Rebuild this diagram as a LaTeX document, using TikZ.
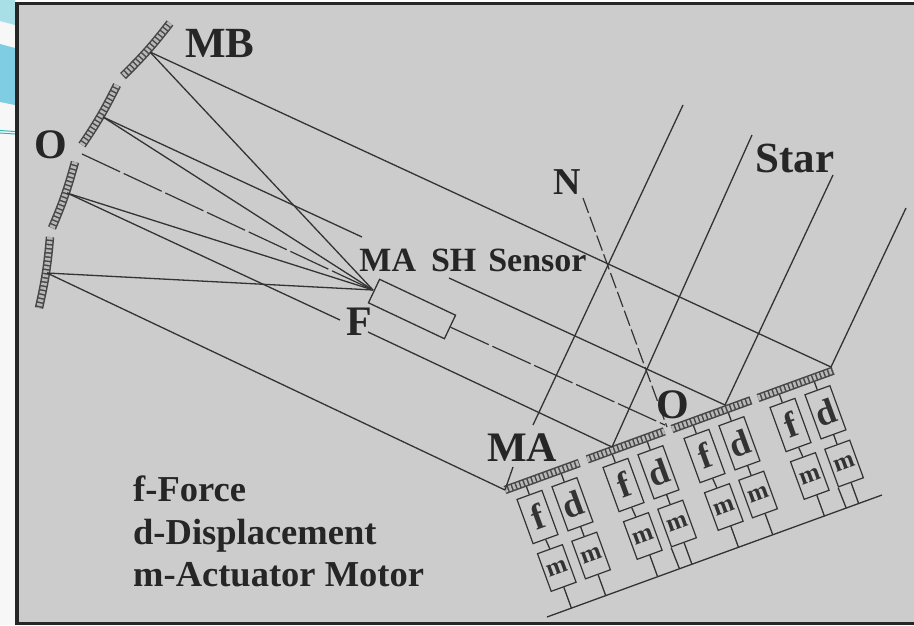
\documentclass[tikz,border=0pt]{standalone}
\usepackage{fontspec}
\setmainfont{Liberation Serif}
\definecolor{ink}{HTML}{333333}
\definecolor{panel}{HTML}{CCCCCC}
\definecolor{swirlA}{HTML}{A8DEE6}
\definecolor{swirlB}{HTML}{7FCDE3}
\definecolor{swirlC}{HTML}{2FB8B8}
\newcommand{\px}[1]{\fontsize{#1}{#1}\selectfont\bfseries}
\tikzset{
  ray/.style={draw=ink,line width=1.3pt},
  axisline/.style={draw=ink,line width=1.2pt,dash pattern=on 42pt off 4pt},
  ndash/.style={draw=ink,line width=1.2pt,dash pattern=on 16pt off 4pt},
  hatchbase/.style={draw=ink!90,line width=8.5pt},
  hatchtop/.style={draw=panel!90!black,line width=5.5pt,dash pattern=on 2.6pt off 1.6pt},
  unitbox/.style={draw=ink,line width=1.2pt,inner sep=0pt,rotate=20,text=ink},
  fbox/.style={unitbox,minimum width=26.5pt,minimum height=47pt,font=\px{36}},
  mbox/.style={unitbox,minimum width=26.5pt,minimum height=40pt,font=\px{25}},
  lab/.style={text=black!85,inner sep=0pt,anchor=center},
  legend/.style={text=black!85,inner sep=0pt,anchor=base west,font=\px{36.5}},
}
\newcommand{\actunit}[6]{%
  \begin{scope}[shift={(#2,#3)},rotate=20]
    \coordinate (bs#1) at (#4,0);
    \coordinate (be#1) at (#5,0);
    \draw[hatchbase] (bs#1) -- (be#1);
    \draw[hatchtop] (bs#1) -- (be#1);
    \node[fbox] (f#1) at (21.3,36.5) {f};
    \node[fbox] (d#1) at (58.5,36.5) {d};
    \node[mbox] (mf#1) at (22,91) {m};
    \node[mbox] (md#1) at (58.5,91) {m};
    \coordinate (tf#1) at (21.3,4);
    \coordinate (td#1) at (58.5,4);
    \coordinate (gf#1) at (22,134);
    \coordinate (gd#1) at (58.5,134);
    \coordinate (gx#1) at (45.25,134);
    \draw[ray] (tf#1) -- (f#1.north);
    \draw[ray] (td#1) -- (d#1.north);
    \draw[ray] (f#1.south) -- (mf#1.north);
    \draw[ray] (d#1.south) -- (md#1.north);
    \draw[ray] (mf#1.south) -- (gf#1);
    \draw[ray] (md#1.south) -- (gd#1);
    #6
  \end{scope}}
\begin{document}
\begin{tikzpicture}[x=1pt,y=-1pt]
\useasboundingbox (0,0) rectangle (914,625);
% slide background
\fill[white] (0,0) rectangle (914,625);
\fill[black!3] (0,0) rectangle (16,625);
\fill[swirlA] (0,0) -- (15,0) -- (15,25) -- (0,21) -- cycle;
\fill[swirlB] (0,44) -- (15,48) -- (15,105) -- (0,102) -- cycle;
\draw[swirlC,line width=1pt] (0,130.5) -- (15,131.5);
\draw[swirlC,line width=1pt] (0,133) -- (15,134);
% panel
\fill[panel] (17,3.5) rectangle (914,623.5);
\draw[black!85,line width=3.6pt] (914,3.5) -- (17,3.5) -- (17,623.5) -- (914,623.5);
% points
\coordinate (focus) at (373,290);
\coordinate (pMB) at (150,52);
\coordinate (pB) at (103,117);
\coordinate (pO) at (82,154);
\coordinate (pC) at (67,193);
\coordinate (pD) at (47,273);
% primary mirror segments
\draw[hatchbase] (170,23) to[bend left=4] (123,76);
\draw[hatchtop] (170,23) to[bend left=4] (123,76);
\draw[hatchbase] (117,85) to[bend left=4] (82,145);
\draw[hatchtop] (117,85) to[bend left=4] (82,145);
\draw[hatchbase] (75,162) to[bend left=4] (52,228);
\draw[hatchtop] (75,162) to[bend left=4] (52,228);
\draw[hatchbase] (50,237) to[bend left=4] (39,308);
\draw[hatchtop] (50,237) to[bend left=4] (39,308);
% actuator units
\actunit{1}{505}{490}{0}{79}{}
\actunit{2}{591}{458}{-4}{78}{\draw[ray] (md2.south west) -- (gx2);}
\actunit{3}{672}{429}{0}{84}{}
\actunit{4}{758}{398}{0}{80}{\draw[ray] (md4.south west) -- (gx4);}
\coordinate (gl) at (547,617);
\coordinate (gr) at (882,495);
\draw[ray] (gl) -- (gr);
% rays
\coordinate (eA) at (505,490);
\coordinate (eB) at (612,447);
\coordinate (eC) at (725,405);
\coordinate (eD) at (831,367);
\draw[ray] (pMB) -- (eD);
\draw[ray] (pMB) -- (focus);
\draw[ray] (pB) -- (focus);
\draw[ray] (pC) -- (focus);
\draw[ray] (pD) -- (focus);
\draw[ray] (pB) -- (362,237);
\draw[ray] (449,278) -- (eC);
\draw[ray] (pC) -- (340,320);
\draw[ray] (368,332) -- (eB);
\draw[ray] (pD) -- (eA);
\draw[axisline] (pO) -- (focus);
% star rays
\draw[ray] (eA) -- (513,467);
\draw[ray] (533,425) -- (683,105);
\draw[ray] (eB) -- (752,135);
\draw[ray] (eC) -- (833,175);
\draw[ray] (eD) -- (906,208);
% sensor
\node[draw=ink,line width=1.3pt,fill=panel,minimum width=84pt,minimum height=26pt,inner sep=0pt,rotate=-25.3] (sensor) at (412,309) {};
\coordinate (axisEnd) at (665,425);
\draw[axisline] (sensor.east) -- (axisEnd);
\draw[ndash] (583,198) -- (667,427);
% labels
\node[lab,font=\px{43}] (tMB) at (220,43) {MB};
\node[lab,font=\px{42}] (tO1) at (51,145) {O};
\node[lab,font=\px{38}] (tN) at (567,182) {N};
\node[lab,font=\px{43}] (tStar) at (795,158) {Star};
\node[lab,font=\px{34}] (tSH) at (473,260) {MA\hspace{.44em}SH\hspace{.35em}Sensor};
\node[lab,font=\px{42}] (tF) at (359,322) {F};
\node[lab,font=\px{42}] (tMA) at (522,448) {MA};
\node[lab,font=\px{42}] (tO2) at (673,405) {O};
\node[legend] (l1) at (133,501) {f-Force};
\node[legend] (l2) at (133,544) {d-Displacement};
\node[legend] (l3) at (133,586) {m-Actuator Motor};
\end{tikzpicture}
\end{document}
